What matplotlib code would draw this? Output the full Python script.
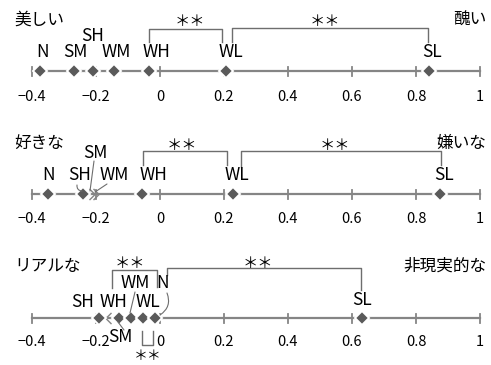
import matplotlib
matplotlib.use("Agg")
import matplotlib.pyplot as plt
from matplotlib.path import Path

plt.rcParams['font.family'] = ['Noto Sans CJK JP', 'DejaVu Sans']

# data
ticks = [-0.4, -0.2, 0, 0.2, 0.4, 0.6, 0.8, 1]
tick_labels = ["−0.4", "−0.2", "0", "0.2", "0.4", "0.6", "0.8", "1"]

left_words = ["美しい", "好きな", "リアルな"]
right_words = ["醜い", "嫌いな", "非現実的な"]

names1 = ["N", "SM", "SH", "WM", "WH", "WL", "SL"]
vals1 = [-0.375, -0.27, -0.21, -0.145, -0.035, 0.205, 0.84]
names2 = ["N", "SH", "SM", "WM", "WH", "WL", "SL"]
vals2 = [-0.35, -0.24, -0.222, -0.208, -0.055, 0.228, 0.875]
names3 = ["SH", "WH", "SM", "WM", "WL", "N", "SL"]
vals3 = [-0.19, -0.153, -0.128, -0.09, -0.053, -0.016, 0.63]

GRAY = '#858585'
DARK = '#5a5a5a'
BR = '#6e6e6e'


def X(px):
    # pixel column -> data value (0 at 160 px, 0.2 per 64 px)
    return (px - 160) / 320


fig = plt.figure(figsize=(4.91, 3.65), dpi=100)
ax = fig.add_axes([0, 0, 1, 1])
ax.set_xlim(X(0), X(491))
ax.set_ylim(365, 0)
ax.axis('off')

chev_right = Path([(0, 1), (1, 0), (0, -1)], [Path.MOVETO, Path.LINETO, Path.LINETO])
chev_left = Path([(0, 1), (-1, 0), (0, -1)], [Path.MOVETO, Path.LINETO, Path.LINETO])


def draw_panel(names, vals, y_axis, y_ticklab, hollow, chev, labels):
    ax.plot([-0.4, 1], [y_axis, y_axis], color=GRAY, lw=1.6, zorder=1)
    for t, tl in zip(ticks, tick_labels):
        ax.plot([t, t], [y_axis - 4.5, y_axis + 4.5], color=GRAY, lw=1.3, zorder=1)
        ax.text(t, y_ticklab, tl, ha='center', va='center', fontsize=10.5)
    for n, v in zip(names, vals):
        if n in hollow:
            ax.plot([v], [y_axis], marker=chev, ms=8, mfc='none', mec=GRAY,
                    mew=1.0, ls='none', zorder=2)
        else:
            ax.plot([v], [y_axis], marker='D', ms=7.5, mfc=DARK, mec='white',
                    mew=1.4, ls='none', zorder=3)
        dx, ly = labels[n]
        ax.text(v + dx / 320, ly, n, ha='center', va='center', fontsize=12.5)


def bracket(x1, x2, top, b1, b2, sx, sy, fs=11):
    ax.plot([X(x1), X(x1), X(x2), X(x2)], [b1, top, top, b2], color=BR, lw=1.0)
    ax.text(X(sx), sy, "＊＊", ha='center', va='center', fontsize=fs)


def leader(p1, p2, rad=0.0):
    ax.annotate('', xy=(X(p2[0]), p2[1]), xytext=(X(p1[0]), p1[1]),
                arrowprops=dict(arrowstyle='-', color=BR, lw=0.8,
                                connectionstyle='arc3,rad=%s' % rad,
                                shrinkA=0, shrinkB=0))


# panel 1
draw_panel(names1, vals1, 71, 97, [], None,
           {"N": (3, 52), "SM": (2, 52), "SH": (0, 36), "WM": (3, 52),
            "WH": (8, 52), "WL": (5, 52), "SL": (3, 52)})
bracket(149, 222, 29, 42, 42, 190, 22)
bracket(232, 428, 28, 42, 42, 325, 22)

# panel 2
draw_panel(names2, vals2, 194, 219, ["SM", "WM"], chev_right,
           {"N": (0, 175), "SH": (-4, 175), "SM": (6, 153), "WM": (21, 175),
            "WH": (11, 175), "WL": (4, 175), "SL": (4, 175)})
bracket(143, 227, 151, 165, 165, 182, 145)
bracket(241, 441, 151, 167, 165, 335, 145)
leader((94, 161), (90, 191))
leader((107, 184), (95, 192))
leader((77, 185), (82, 191), rad=0.5)

# panel 3
draw_panel(names3, vals3, 318, 342, ["WH"], chev_left,
           {"SH": (-17, 302), "WH": (2, 302), "SM": (1, 337), "WM": (4, 283),
            "WL": (5, 302), "N": (8, 283), "SL": (0, 300)})
bracket(112, 157, 270, 288, 287, 130, 263)
bracket(167, 361, 268, 275, 290, 258, 263)
bracket(142, 153, 345, 331, 331, 148, 356, fs=10)
leader((135, 292), (130, 313))
leader((124, 330), (118, 322))
leader((167, 293), (160, 315), rad=-0.4)

# end words
for i, (lw_, rw_) in enumerate(zip(left_words, right_words)):
    yy = [20, 143, 266][i]
    ax.text(X(14), yy, lw_, ha='left', va='center', fontsize=12)
    ax.text(X(486), yy, rw_, ha='right', va='center', fontsize=12)

fig.savefig('out.png', dpi=100)
